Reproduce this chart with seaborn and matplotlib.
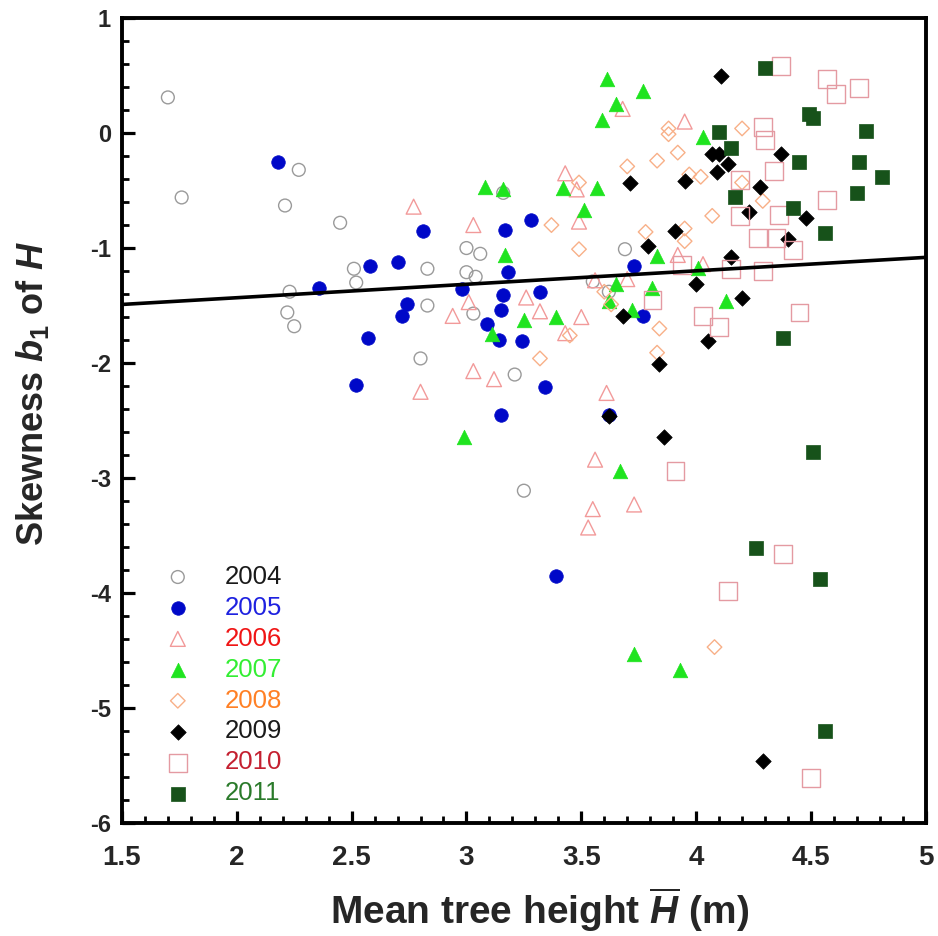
import numpy as np
import pandas as pd
import matplotlib
matplotlib.use("Agg")
import matplotlib.pyplot as plt
from matplotlib.ticker import MultipleLocator
import seaborn as sns

# ---------------- data ----------------
years = ["2004", "2005", "2006", "2007", "2008", "2009", "2010", "2011"]

x_2004 = [1.70, 1.76, 2.21, 2.27, 2.45, 2.51, 2.52, 2.23, 2.22, 2.25, 2.83, 2.83,
          2.80, 3.00, 3.06, 3.00, 3.04, 3.03, 3.21, 3.25, 3.16, 3.69, 3.55, 3.62]
y_2004 = [0.31, -0.56, -0.63, -0.32, -0.78, -1.18, -1.30, -1.38, -1.56, -1.68, -1.18, -1.50,
          -1.96, -1.00, -1.05, -1.21, -1.25, -1.57, -2.10, -3.11, -0.52, -1.01, -1.29, -1.38]

x_2005 = [2.18, 2.36, 2.58, 2.57, 2.52, 2.70, 2.81, 2.74, 2.72, 2.98, 3.09, 3.14, 3.15,
          3.17, 3.18, 3.16, 3.15, 3.28, 3.32, 3.24, 3.34, 3.39, 3.73, 3.77, 3.62]
y_2005 = [-0.25, -1.35, -1.16, -1.78, -2.19, -1.12, -0.85, -1.49, -1.59, -1.36, -1.66, -1.80, -2.45,
          -0.84, -1.21, -1.41, -1.54, -0.76, -1.38, -1.81, -2.21, -3.85, -1.16, -1.59, -2.45]

x_2006 = [2.77, 3.03, 3.01, 2.94, 3.03, 3.12, 2.80, 3.26, 3.32, 3.43, 3.43, 3.48, 3.49,
          3.68, 3.95, 3.56, 3.70, 3.92, 4.03, 3.50, 3.61, 3.56, 3.73, 3.55, 3.53]
y_2006 = [-0.64, -0.80, -1.47, -1.59, -2.07, -2.14, -2.25, -1.43, -1.55, -1.74, -0.35, -0.49, -0.77,
          0.21, 0.10, -1.28, -1.27, -1.06, -1.14, -1.60, -2.26, -2.84, -3.23, -3.27, -3.43]

x_2007 = [3.08, 3.16, 3.17, 3.11, 3.25, 3.39, 2.99, 3.42, 3.51, 3.57, 3.61, 3.77, 3.65,
          3.59, 4.03, 3.83, 4.01, 3.65, 3.81, 3.62, 3.72, 4.13, 3.67, 3.73, 3.93]
y_2007 = [-0.47, -0.49, -1.06, -1.75, -1.63, -1.60, -2.64, -0.48, -0.67, -0.48, 0.47, 0.37, 0.25,
          0.11, -0.03, -1.07, -1.17, -1.31, -1.35, -1.46, -1.54, -1.46, -2.94, -4.53, -4.67]

x_2008 = [3.37, 3.32, 3.45, 3.49, 3.49, 3.70, 3.83, 3.88, 3.88, 3.92, 3.97, 4.02, 4.20,
          4.20, 4.29, 4.07, 3.78, 3.95, 3.95, 3.60, 3.63, 3.84, 3.83, 4.08]
y_2008 = [-0.80, -1.96, -1.76, -1.01, -0.43, -0.29, -0.24, 0.04, -0.01, -0.17, -0.36, -0.38, 0.04,
          -0.43, -0.59, -0.72, -0.86, -0.83, -0.94, -1.38, -1.49, -1.70, -1.91, -4.47]

x_2009 = [4.11, 4.07, 4.10, 4.14, 4.09, 4.37, 3.71, 3.95, 4.28, 4.23, 4.48, 4.40, 3.91,
          3.79, 4.15, 4.00, 4.20, 3.68, 4.05, 3.84, 3.62, 3.86, 4.29]
y_2009 = [0.50, -0.18, -0.18, -0.27, -0.34, -0.18, -0.43, -0.42, -0.47, -0.69, -0.74, -0.92, -0.85,
          -0.98, -1.08, -1.31, -1.43, -1.59, -1.81, -2.01, -2.46, -2.64, -5.46]

x_2010 = [4.37, 4.57, 4.71, 4.61, 4.29, 4.30, 4.34, 4.19, 4.57, 4.19, 4.36, 4.27, 4.35,
          4.42, 3.94, 4.15, 4.29, 3.81, 4.03, 4.10, 4.45, 3.91, 4.38, 4.14, 4.50]
y_2010 = [0.58, 0.47, 0.39, 0.34, 0.05, -0.06, -0.33, -0.41, -0.58, -0.72, -0.71, -0.91, -0.91,
          -1.02, -1.15, -1.18, -1.20, -1.45, -1.59, -1.69, -1.56, -2.94, -3.66, -3.98, -5.61]

x_2011 = [4.30, 4.49, 4.51, 4.74, 4.10, 4.15, 4.45, 4.71, 4.81, 4.17, 4.70, 4.42, 4.56,
          4.38, 4.51, 4.26, 4.54, 4.56]
y_2011 = [0.57, 0.17, 0.13, 0.02, 0.01, -0.13, -0.25, -0.25, -0.38, -0.56, -0.52, -0.65, -0.87,
          -1.78, -2.77, -3.61, -3.88, -5.20]

# fitted regression line (all years)
fit_intercept = -1.666
fit_slope = 0.117
fit_x = [1.5, 5.0]

xticks = [1.5, 2, 2.5, 3, 3.5, 4, 4.5, 5]
xtick_labels = ["1.5", "2", "2.5", "3", "3.5", "4", "4.5", "5"]
yticks = [1, 0, -1, -2, -3, -4, -5, -6]
ytick_labels = ["1", "0", "-1", "-2", "-3", "-4", "-5", "-6"]

xs = [x_2004, x_2005, x_2006, x_2007, x_2008, x_2009, x_2010, x_2011]
ys = [y_2004, y_2005, y_2006, y_2007, y_2008, y_2009, y_2010, y_2011]
df = pd.concat([pd.DataFrame({"H": x, "b1": y, "year": yr}) for x, y, yr in zip(xs, ys, years)],
               ignore_index=True)
fit_df = pd.DataFrame({"H": fit_x, "b1": [fit_intercept + fit_slope * v for v in fit_x]})

# ---------------- styles ----------------
styles = {
    "2004": dict(marker="o", s=85, filled=False, color="#9a9a9a"),
    "2005": dict(marker="o", s=95, filled=True, color="#0008c8"),
    "2006": dict(marker="^", s=115, filled=False, color="#f29a9a"),
    "2007": dict(marker="^", s=110, filled=True, color="#1fe41f"),
    "2008": dict(marker="D", s=55, filled=False, color="#f8b088"),
    "2009": dict(marker="D", s=62, filled=True, color="#000000"),
    "2010": dict(marker="s", s=165, filled=False, color="#e49aa2"),
    "2011": dict(marker="s", s=95, filled=True, color="#17521a"),
}
label_colors = ["#1a1a1a", "#1e22e0", "#f01515", "#33ee33", "#ff8025", "#1a1a1a", "#c42030", "#2a7a2a"]

sns.set_theme(style="white")
plt.rcParams["font.family"] = ["Liberation Sans", "DejaVu Sans"]
plt.rcParams["mathtext.fontset"] = "custom"
plt.rcParams["mathtext.rm"] = "Liberation Sans:bold"
plt.rcParams["mathtext.it"] = "Liberation Sans:italic:bold"
plt.rcParams["mathtext.bf"] = "Liberation Sans:bold"

fig = plt.figure(figsize=(9.38, 9.36), dpi=100)
ax = fig.add_axes([0.130, 0.1207, 0.857, 0.860])

handles = []
for yr in years:
    st = styles[yr]
    sub = df[df["year"] == yr]
    before = len(ax.collections)
    if st["filled"]:
        sns.scatterplot(data=sub, x="H", y="b1", ax=ax, marker=st["marker"], s=st["s"],
                        facecolor=st["color"], edgecolor=st["color"], linewidth=0.5,
                        legend=False, zorder=3)
    else:
        sns.scatterplot(data=sub, x="H", y="b1", ax=ax, marker=st["marker"], s=st["s"],
                        facecolor="none", edgecolor=st["color"], linewidth=1.0,
                        legend=False, zorder=3)
    handles.append(ax.collections[before])

sns.lineplot(data=fit_df, x="H", y="b1", ax=ax, color="black", linewidth=2.6, zorder=4)

ax.set_xlim(1.5, 5.0)
ax.set_ylim(-6, 1)
ax.set_xticks(xticks)
ax.set_xticklabels(xtick_labels)
ax.set_yticks(yticks)
ax.set_yticklabels(ytick_labels)
ax.xaxis.set_minor_locator(MultipleLocator(0.1))
ax.yaxis.set_minor_locator(MultipleLocator(0.2))

for side in ["left", "bottom", "top", "right"]:
    ax.spines[side].set_visible(True)
    ax.spines[side].set_color("black")
    ax.spines[side].set_linewidth(2.8)

ax.tick_params(axis="both", which="major", direction="in", length=9, width=2.3,
               color="black", bottom=True, left=True, top=False, right=False)
ax.tick_params(axis="both", which="minor", direction="in", length=5, width=2.0,
               color="black", bottom=True, left=True, top=False, right=False)
ax.tick_params(axis="x", which="major", pad=16)
ax.tick_params(axis="y", which="major", pad=8)
for lab in ax.get_xticklabels():
    lab.set_fontfamily(["Liberation Sans Narrow", "Liberation Sans", "DejaVu Sans"])
    lab.set_fontweight("bold")
    lab.set_fontsize(20)
for lab in ax.get_yticklabels():
    lab.set_fontfamily(["Liberation Sans Narrow", "Liberation Sans", "DejaVu Sans"])
    lab.set_fontweight("bold")
    lab.set_fontsize(17)

ax.set_xlabel(r"Mean tree height $\overline{\mathit{H}}$ (m)", fontsize=28, fontweight="bold")
ax.set_ylabel(r"Skewness $\mathit{b}_{1}$ of $\mathit{H}$", fontsize=26, fontweight="bold")
ax.xaxis.set_label_coords(0.519, -0.078)
ax.yaxis.set_label_coords(-0.088, 0.533)

leg = ax.legend(handles, years, loc="lower left", bbox_to_anchor=(0.0535, 0.022),
                frameon=False, fontsize=18.5, handlelength=1.0, handletextpad=1.33,
                labelspacing=0.27, borderaxespad=0, borderpad=0, scatterpoints=1,
                labelcolor=label_colors)

fig.savefig("out.png", dpi=100, facecolor="white")
